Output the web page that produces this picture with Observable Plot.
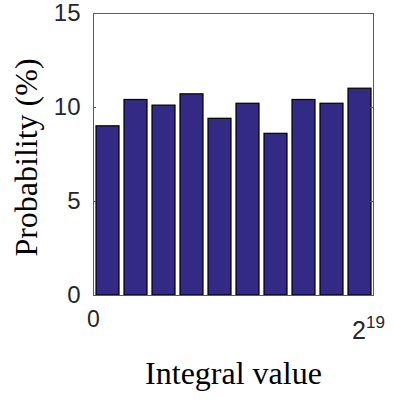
<!DOCTYPE html>
<html>
<head>
<meta charset="utf-8">
<script src="https://cdn.jsdelivr.net/npm/d3@7"></script>
<script src="https://cdn.jsdelivr.net/npm/@observablehq/plot@0.6"></script>
<style>
  html, body { margin: 0; padding: 0; background: white; }
  #chart { width: 393px; height: 404px; }
</style>
</head>
<body>
<div id="chart"></div>
<script>
const xMax = 2 ** 19;
const binCount = 10;
const probabilities = [9.0, 10.4, 10.1, 10.7, 9.4, 10.2, 8.6, 10.4, 10.2, 11.0];
const yTicks = [0, 5, 10, 15];
const xTicks = [0, xMax];
const xTickLabels = ["0", "2^19"];
const xLabel = "Integral value";
const yLabel = "Probability (%)";

const binWidth = xMax / binCount;
const bars = probabilities.map((p, i) => ({x1: i * binWidth, x2: (i + 1) * binWidth, p}));

const chart = Plot.plot({
  width: 393,
  height: 404,
  marginLeft: 93,
  marginRight: 20,
  marginTop: 13,
  marginBottom: 109,
  x: {domain: [0, xMax]},
  y: {domain: [0, 15]},
  style: {fontFamily: "Liberation Sans, Arial, sans-serif", fontSize: "24px", color: "#262626", background: "white"},
  marks: [
    Plot.rectY(bars, {x1: "x1", x2: "x2", y: "p", fill: "#332a85", stroke: "#000", strokeWidth: 1.2, insetLeft: 3, insetRight: 2}),
    Plot.frame({stroke: "#5a5a5a", strokeWidth: 1}),
    Plot.tickY(yTicks, {y: d => d, insetRight: 277, stroke: "#5a5a5a"}),
    Plot.tickY(yTicks, {y: d => d, insetLeft: 277, stroke: "#5a5a5a"}),
    Plot.axisY({ticks: yTicks, tickSize: 0, tickPadding: 13, label: null, fontSize: 24}),
    Plot.axisX({ticks: xTicks, tickSize: 0, tickPadding: 15, label: null, fontSize: 23,
      tickFormat: d => xTickLabels[xTicks.indexOf(d)]}),
    Plot.text([xLabel], {text: d => d, frameAnchor: "bottom", dy: 88, fontSize: 32,
      fontFamily: "Liberation Serif, Times New Roman, serif", fill: "#000"}),
    Plot.text([yLabel], {text: d => d, frameAnchor: "left", textAnchor: "middle", rotate: -90, dx: -67, dy: 3, fontSize: 32,
      fontFamily: "Liberation Serif, Times New Roman, serif", fill: "#000"})
  ]
});

// enforce tick label font sizes
chart.querySelectorAll('g[aria-label="y-axis tick label"] text').forEach(t => { t.style.fontSize = "24px"; });
chart.querySelectorAll('g[aria-label="x-axis tick label"] text').forEach(t => { t.style.fontSize = "23px"; });

// Render the power-of-two tick label with a real superscript
chart.querySelectorAll("text").forEach(t => {
  if (t.textContent === "2^19") {
    t.textContent = "";
    const ns = "http://www.w3.org/2000/svg";
    const base = document.createElementNS(ns, "tspan");
    base.setAttribute("dy", "12");
    base.setAttribute("dx", "-5");
    base.setAttribute("font-size", "25");
    base.textContent = "2";
    const sup = document.createElementNS(ns, "tspan");
    sup.setAttribute("dy", "-11");
    sup.setAttribute("font-size", "17");
    sup.textContent = "19";
    t.appendChild(base);
    t.appendChild(sup);
  }
});

document.getElementById("chart").appendChild(chart);
</script>
</body>
</html>
